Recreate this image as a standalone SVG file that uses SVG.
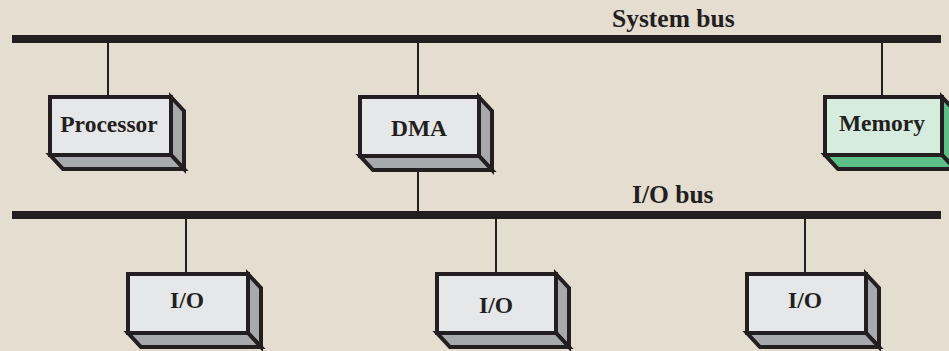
<svg xmlns="http://www.w3.org/2000/svg" width="949" height="351" viewBox="0 0 949 351">
<style>
.bus{fill:#231f20}
.wire{stroke:#231f20;stroke-width:2;fill:none}
.front{fill:#e6e7e8;stroke:#231f20;stroke-width:4;stroke-linejoin:miter}
.side{fill:#a7a9ac;stroke:#231f20;stroke-width:4;stroke-linejoin:miter}
.mfront{fill:#d6ecdf;stroke:#231f20;stroke-width:4}
.mside{fill:#5dbf87;stroke:#231f20;stroke-width:4}
.lbl{font-family:"Liberation Serif","Times New Roman",serif;font-weight:bold;font-size:23.5px;fill:#231f20;text-anchor:middle}
.bl{font-family:"Liberation Serif","Times New Roman",serif;font-weight:bold;font-size:25.5px;fill:#231f20}
</style>
<rect width="949" height="351" fill="#e4ddd0"/>
<g id="system-bus">
<rect class="bus" x="12" y="35" width="929" height="8"/>
<text class="bl" x="612" y="27">System bus</text>
</g>
<g id="io-bus">
<rect class="bus" x="12" y="211" width="929" height="8"/>
<text class="bl" x="632" y="203">I/O bus</text>
</g>
<g id="connectors">
<line class="wire" x1="108" y1="43" x2="108" y2="97"/>
<line class="wire" x1="418" y1="43" x2="418" y2="97"/>
<line class="wire" x1="418" y1="156" x2="418" y2="211"/>
<line class="wire" x1="882" y1="43" x2="882" y2="97"/>
<line class="wire" x1="186" y1="219" x2="186" y2="274"/>
<line class="wire" x1="496" y1="219" x2="496" y2="274"/>
<line class="wire" x1="805" y1="219" x2="805" y2="274"/>
</g>
<g id="processor">
<polygon class="side" points="171,97 184,111 184,169 171,155"/>
<polygon class="side" points="50,155 171,155 184,169 63,169"/>
<rect class="front" x="50" y="97" width="121" height="58"/>
<text class="lbl" x="109" y="132">Processor</text>
</g>
<g id="dma">
<polygon class="side" points="479,97 492,111 492,170 479,156"/>
<polygon class="side" points="360,156 479,156 492,170 373,170"/>
<rect class="front" x="360" y="97" width="119" height="59"/>
<text class="lbl" x="419" y="136">DMA</text>
</g>
<g id="memory">
<polygon class="mside" points="942,97 955,111 955,169 942,155"/>
<polygon class="mside" points="825,155 942,155 955,169 838,169"/>
<rect class="mfront" x="825" y="97" width="117" height="58"/>
<text class="lbl" x="882" y="131">Memory</text>
</g>
<g id="io1">
<polygon class="side" points="248,274 261,288 261,347 248,333"/>
<polygon class="side" points="128,333 248,333 261,347 141,347"/>
<rect class="front" x="128" y="274" width="120" height="59"/>
<text class="lbl" x="187" y="308">I/O</text>
</g>
<g id="io2">
<polygon class="side" points="556,274 569,288 569,347 556,333"/>
<polygon class="side" points="437,333 556,333 569,347 450,347"/>
<rect class="front" x="437" y="274" width="119" height="59"/>
<text class="lbl" x="496" y="313">I/O</text>
</g>
<g id="io3">
<polygon class="side" points="866,274 879,288 879,347 866,333"/>
<polygon class="side" points="747,333 866,333 879,347 760,347"/>
<rect class="front" x="747" y="274" width="119" height="59"/>
<text class="lbl" x="805" y="308">I/O</text>
</g>
</svg>
